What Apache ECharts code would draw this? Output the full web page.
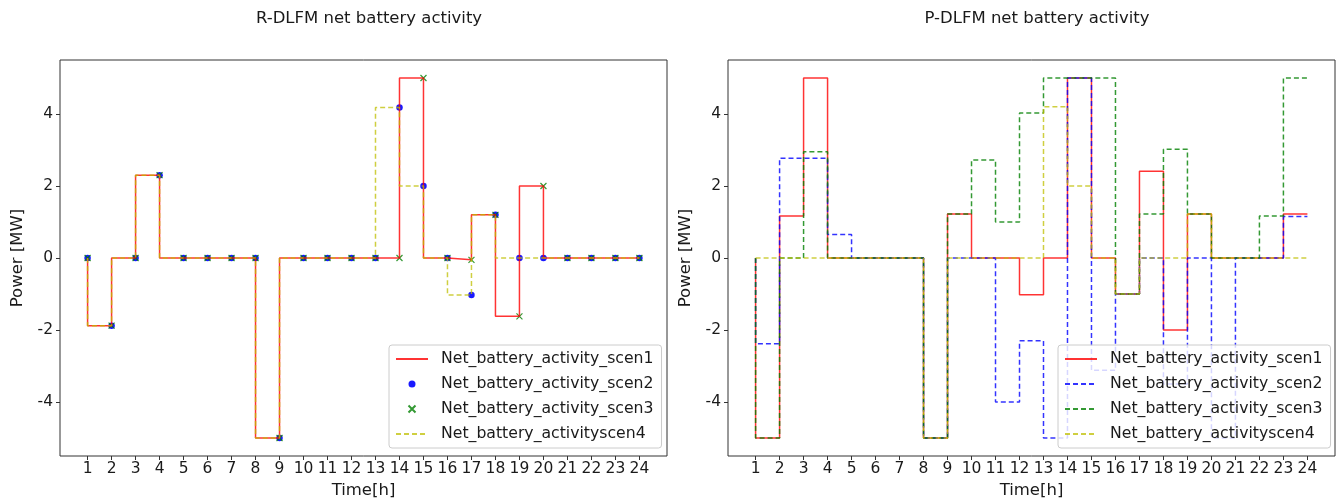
<!DOCTYPE html>
<html>
<head>
<meta charset="utf-8">
<script src="https://cdn.jsdelivr.net/npm/echarts@6/dist/echarts.min.js"></script>
<style>
  html, body { margin: 0; padding: 0; background: #fff; }
  #chart { width: 1343px; height: 499px; }
</style>
</head>
<body>
<div id="chart"></div>
<script>
// hours on the x axis
const hours = [1, 2, 3, 4, 5, 6, 7, 8, 9, 10, 11, 12, 13, 14, 15, 16, 17, 18, 19, 20, 21, 22, 23, 24]
const yTicks = [-4, -2, 0, 2, 4]

// R-DLFM (left)
const rScen1 = [0, -1.88, 0, 2.3, 0, 0, 0, 0, -5, 0, 0, 0, 0, 0, 5, 0, -0.05, 1.2, -1.62, 2, 0, 0, 0, 0]
const rScen2 = [0, -1.88, 0, 2.3, 0, 0, 0, 0, -5, 0, 0, 0, 0, 4.18, 2, 0, -1.03, 1.2, 0, 0, 0, 0, 0, 0]
const rScen3 = [0, -1.88, 0, 2.3, 0, 0, 0, 0, -5, 0, 0, 0, 0, 0, 5, 0, -0.05, 1.2, -1.62, 2, 0, 0, 0, 0]
const rScen4 = [0, -1.88, 0, 2.3, 0, 0, 0, 0, -5, 0, 0, 0, 0, 4.18, 2, 0, -1.03, 1.2, 0, 0, 0, 0, 0, 0]

// P-DLFM (right)
const pScen1 = [0, -5, 1.17, 5, 0, 0, 0, 0, -5, 1.22, 0, 0, -1.02, 0, 5, 0, -1, 2.41, -2, 1.22, 0, 0, 0, 1.22]
const pScen2 = [0, -2.38, 2.77, 2.77, 0.65, 0, 0, 0, -5, 0, 0, -4, -2.3, -5, 5, -3.12, -1, 0, -3.5, 0, -5, 0, 0, 1.15]
const pScen3 = [0, -5, 0, 2.95, 0, 0, 0, 0, -5, 1.22, 2.72, 1, 4.03, 5, 5, 5, -1, 1.22, 3.02, 1.22, 0, 0, 1.17, 5]
const pScen4 = [0, 0, 0, 0, 0, 0, 0, 0, -5, 0, 0, 0, 0, 4.2, 2, 0, -1, 0, 0, 1.22, 0, 0, 0, 0]

const names = ['Net_battery_activity_scen1', 'Net_battery_activity_scen2', 'Net_battery_activity_scen3', 'Net_battery_activityscen4']

const FONT = 'DejaVu Sans'
const TXT = '#1a1a1a'
const RED = 'rgba(255, 0, 0, 0.8)'
const BLUE = 'rgba(0, 0, 255, 0.8)'
const GREEN = 'rgba(0, 128, 0, 0.8)'
const YELLOW = 'rgba(191, 191, 0, 0.75)'
const DASH = [5, 3]
const CROSS = 'path://M0,0L1,1M1,0L0,1'

const pairs = vals => hours.map((h, i) => [h, vals[i]])

const stepLine = (name, vals, idx, color, dashed) => ({
  name, type: 'line', step: 'start', symbol: 'none',
  xAxisIndex: idx, yAxisIndex: idx,
  lineStyle: {color, width: 1.5, type: dashed ? DASH : 'solid'},
  itemStyle: {color},
  data: pairs(vals)
})

const xAxis = idx => ({
  type: 'value', gridIndex: idx, min: -0.15, max: 25.15,
  name: 'Time[h]', nameLocation: 'middle', nameGap: 21,
  nameTextStyle: {fontFamily: FONT, fontSize: 16.5, color: TXT},
  axisLine: {show: false, onZero: false},
  axisTick: {show: true, length: 4, customValues: hours, lineStyle: {color: '#333'}},
  axisLabel: {customValues: hours, fontFamily: FONT, fontSize: 15.5, color: TXT, margin: 5},
  splitLine: {show: false}
})

const yAxis = idx => ({
  type: 'value', gridIndex: idx, min: -5.5, max: 5.5,
  name: 'Power [MW]', nameLocation: 'middle', nameGap: 34, nameRotate: 90,
  nameTextStyle: {fontFamily: FONT, fontSize: 16.5, color: TXT},
  axisLine: {show: false, onZero: false},
  axisTick: {show: true, length: 4, customValues: yTicks, lineStyle: {color: '#333'}},
  axisLabel: {customValues: yTicks, fontFamily: FONT, fontSize: 15.5, color: TXT, margin: 7},
  splitLine: {show: false}
})

// line items get a hidden centre symbol so only the stroke shows
const legendItems = (list, markerIdx) => list.map((n, i) =>
  markerIdx.includes(i) ? {name: n} : {name: n, itemStyle: {opacity: 0}})

const legend = (left, data) => ({
  orient: 'vertical', left, top: 345,
  itemWidth: 32, itemHeight: 7, itemGap: 5,
  padding: [4, 8, 4, 6],
  backgroundColor: 'rgba(255,255,255,0.8)',
  borderColor: '#cccccc', borderWidth: 1, borderRadius: 3,
  textStyle: {fontFamily: FONT, fontSize: 15.7, color: TXT, lineHeight: 20, padding: [0, 0, 0, 8]},
  formatter: n => n.trim(),
  data
})

const pNames = names.map(n => n + ' ')

const gridBox = left => ({
  left, top: 60, width: 607, height: 396,
  outerBoundsMode: 'none', containLabel: false,
  show: true, borderColor: '#333', borderWidth: 1, backgroundColor: '#fff'
})

const chart = echarts.init(document.getElementById('chart'), null, {renderer: 'canvas'})
chart.setOption({
  backgroundColor: '#fff',
  animation: false,
  title: [
    {text: 'R-DLFM net battery activity', left: 364, top: 5, textAlign: 'center',
      textStyle: {fontFamily: FONT, fontSize: 16.5, fontWeight: 'normal', color: TXT}},
    {text: 'P-DLFM net battery activity', left: 1032, top: 5, textAlign: 'center',
      textStyle: {fontFamily: FONT, fontSize: 16.5, fontWeight: 'normal', color: TXT}}
  ],
  grid: [gridBox(60), gridBox(728)],
  xAxis: [xAxis(0), xAxis(1)],
  yAxis: [yAxis(0), yAxis(1)],
  legend: [legend(389, legendItems(names, [1, 2])), legend(1058, legendItems(pNames, []))],
  series: [
    stepLine(names[0], rScen1, 0, RED, false),
    {
      name: names[1], type: 'scatter', xAxisIndex: 0, yAxisIndex: 0,
      symbol: 'circle', symbolSize: 6.5,
      itemStyle: {color: '#0000ff', opacity: 0.9},
      data: pairs(rScen2)
    },
    {
      name: names[2], type: 'scatter', xAxisIndex: 0, yAxisIndex: 0,
      symbol: CROSS, symbolSize: 6,
      itemStyle: {color: 'none', borderColor: '#008000', borderWidth: 1.2},
      data: pairs(rScen3)
    },
    stepLine(names[3], rScen4, 0, YELLOW, true),

    stepLine(pNames[0], pScen1, 1, RED, false),
    stepLine(pNames[1], pScen2, 1, BLUE, true),
    stepLine(pNames[2], pScen3, 1, GREEN, true),
    stepLine(pNames[3], pScen4, 1, YELLOW, true)
  ]
})
</script>
</body>
</html>
